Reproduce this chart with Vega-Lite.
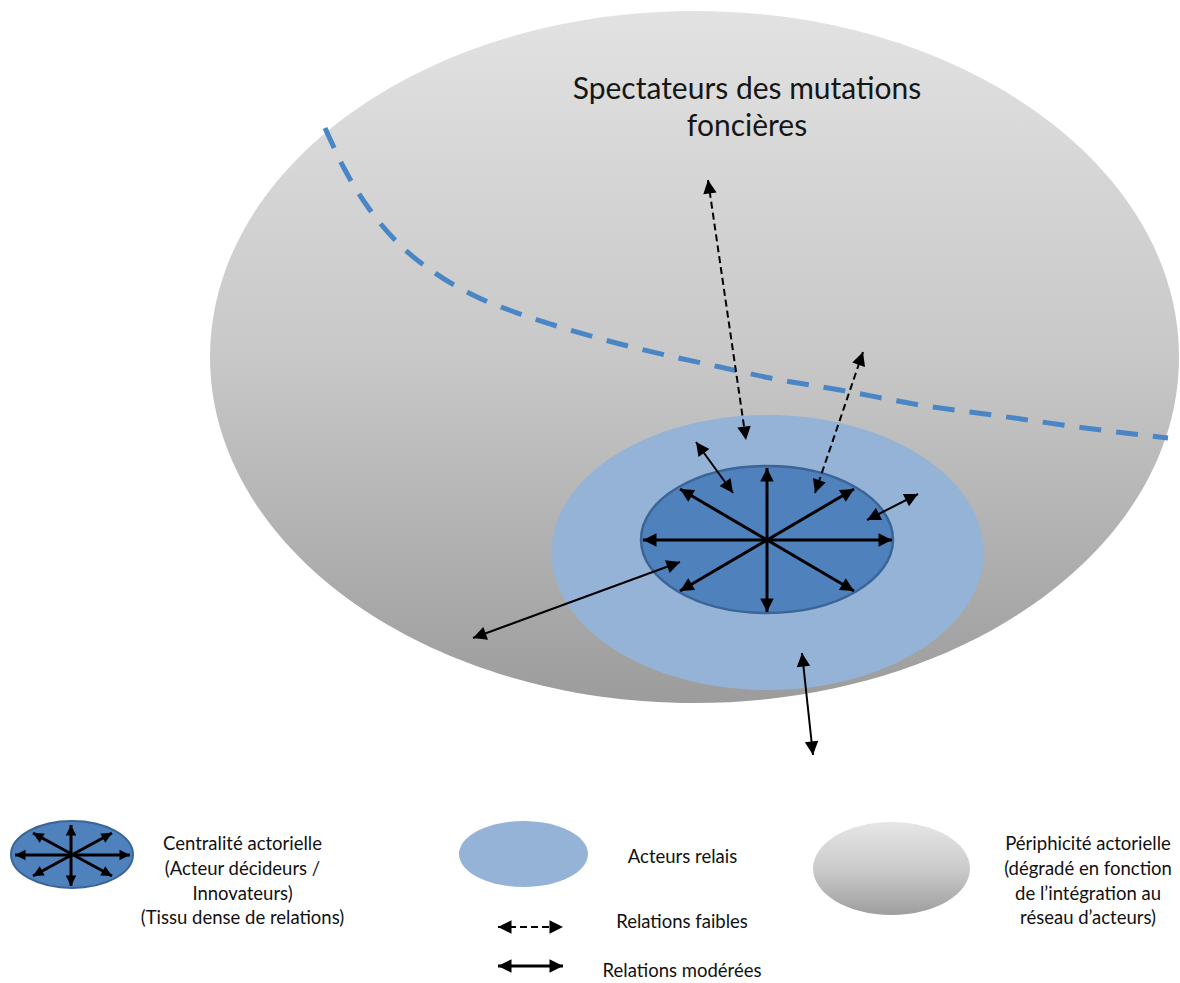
{
  "$schema": "https://vega.github.io/schema/vega-lite/v6.json",
  "width": 1180,
  "height": 983,
  "autosize": {"type": "fit", "contains": "padding"},
  "padding": 0,
  "background": "white",
  "config": {"view": {"stroke": null}},
  "datasets": {
    "shapes": [
      {"name": "peripherie", "x": 694.5, "y": 357},
      {"name": "relais", "x": 767.5, "y": 552.5},
      {"name": "centre", "x": 767, "y": 539.5},
      {"name": "leg_centre", "x": 72, "y": 854.5},
      {"name": "leg_relais", "x": 523.5, "y": 854},
      {"name": "leg_peripherie", "x": 891.5, "y": 868.5}
    ],
    "curve": [
      {"x": 325, "y": 128}, {"x": 345, "y": 170}, {"x": 370, "y": 210}, {"x": 400, "y": 245},
      {"x": 435, "y": 273}, {"x": 475, "y": 296}, {"x": 520, "y": 314}, {"x": 570, "y": 330},
      {"x": 620, "y": 344}, {"x": 670, "y": 356}, {"x": 720, "y": 367}, {"x": 770, "y": 378},
      {"x": 840, "y": 390}, {"x": 920, "y": 405}, {"x": 1000, "y": 416}, {"x": 1085, "y": 428},
      {"x": 1168, "y": 438}
    ],
    "arrows": [
      {"x": 643, "y": 540, "x2": 892, "y2": 540, "kind": "core"},
      {"x": 767, "y": 468, "x2": 767, "y2": 612, "kind": "core"},
      {"x": 680, "y": 489, "x2": 854, "y2": 591, "kind": "core"},
      {"x": 854, "y": 489, "x2": 680, "y2": 591, "kind": "core"},
      {"x": 696, "y": 442, "x2": 733, "y2": 493, "kind": "moderee"},
      {"x": 918, "y": 494, "x2": 867, "y2": 520, "kind": "moderee"},
      {"x": 473, "y": 638, "x2": 680, "y2": 562, "kind": "moderee"},
      {"x": 802, "y": 653, "x2": 813, "y2": 755, "kind": "moderee"},
      {"x": 708, "y": 180, "x2": 746, "y2": 440, "kind": "faible"},
      {"x": 863, "y": 352, "x2": 815, "y2": 493, "kind": "faible"},
      {"x": 15, "y": 855, "x2": 130, "y2": 855, "kind": "leg_core"},
      {"x": 71, "y": 825, "x2": 71, "y2": 886, "kind": "leg_core"},
      {"x": 33, "y": 833, "x2": 112, "y2": 876, "kind": "leg_core"},
      {"x": 112, "y": 833, "x2": 33, "y2": 876, "kind": "leg_core"},
      {"x": 498, "y": 927, "x2": 563, "y2": 927, "kind": "leg_faible"},
      {"x": 498, "y": 966, "x2": 563, "y2": 966, "kind": "leg_moderee"}
    ],
    "labels": [
      {"x": 747, "y": 99, "text": "Spectateurs des mutations", "grp": "title"},
      {"x": 747, "y": 136, "text": "foncières", "grp": "title"},
      {"x": 242.5, "y": 850, "text": "Centralité actorielle", "grp": "legend"},
      {"x": 242.5, "y": 875, "text": "(Acteur décideurs /", "grp": "legend"},
      {"x": 242.5, "y": 900, "text": "Innovateurs)", "grp": "legend"},
      {"x": 242.5, "y": 924, "text": "(Tissu dense de relations)", "grp": "legend"},
      {"x": 682.5, "y": 863, "text": "Acteurs relais", "grp": "legend"},
      {"x": 682, "y": 928, "text": "Relations faibles", "grp": "legend"},
      {"x": 682, "y": 977, "text": "Relations modérées", "grp": "legend"},
      {"x": 1088, "y": 850, "text": "Périphicité actorielle", "grp": "legend"},
      {"x": 1088, "y": 875, "text": "(dégradé en fonction", "grp": "legend"},
      {"x": 1088, "y": 900, "text": "de l’intégration au", "grp": "legend"},
      {"x": 1088, "y": 924, "text": "réseau d’acteurs)", "grp": "legend"}
    ]
  },
  "encoding": {
    "x": {"field": "x", "type": "quantitative", "scale": {"domain": [0, 1180], "nice": false, "zero": false}, "axis": null},
    "y": {"field": "y", "type": "quantitative", "scale": {"domain": [0, 983], "nice": false, "zero": false, "reverse": true}, "axis": null}
  },
  "layer": [
    {
      "data": {"name": "shapes"},
      "transform": [{"filter": "datum.name === 'peripherie'"}],
      "mark": {"type": "point", "shape": "M-1,0A1,0.7141 0 1,1 1,0A1,0.7141 0 1,1 -1,0Z", "size": 938961, "filled": true, "opacity": 1, "strokeWidth": 0,
        "fill": {"gradient": "linear", "x1": 0, "y1": 0, "x2": 0, "y2": 1, "stops": [{"offset": 0, "color": "#e2e2e2"}, {"offset": 0.5, "color": "#c8c8c8"}, {"offset": 1, "color": "#9c9c9c"}]}}
    },
    {
      "data": {"name": "curve"},
      "mark": {"type": "line", "interpolate": "monotone", "stroke": "#4a86c6", "strokeWidth": 5, "strokeDash": [22, 15], "strokeCap": "butt"}
    },
    {
      "data": {"name": "shapes"},
      "transform": [{"filter": "datum.name === 'relais'"}],
      "mark": {"type": "point", "shape": "M-1,0A1,0.6366 0 1,1 1,0A1,0.6366 0 1,1 -1,0Z", "size": 186624, "filled": true, "opacity": 1, "strokeWidth": 0, "fill": "#95b3d7"}
    },
    {
      "data": {"name": "shapes"},
      "transform": [{"filter": "datum.name === 'centre'"}],
      "mark": {"type": "point", "shape": "M-1,0A1,0.5833 0 1,1 1,0A1,0.5833 0 1,1 -1,0Z", "size": 63504, "filled": true, "opacity": 1, "fill": "#4f81bd", "stroke": "#3a6596", "strokeWidth": 2.5}
    },
    {
      "data": {"name": "shapes"},
      "transform": [{"filter": "datum.name === 'leg_centre'"}],
      "mark": {"type": "point", "shape": "M-1,0A1,0.549 0 1,1 1,0A1,0.549 0 1,1 -1,0Z", "size": 14884, "filled": true, "opacity": 1, "fill": "#4f81bd", "stroke": "#3a6596", "strokeWidth": 2}
    },
    {
      "data": {"name": "shapes"},
      "transform": [{"filter": "datum.name === 'leg_relais'"}],
      "mark": {"type": "point", "shape": "M-1,0A1,0.5116 0 1,1 1,0A1,0.5116 0 1,1 -1,0Z", "size": 16641, "filled": true, "opacity": 1, "strokeWidth": 0, "fill": "#95b3d7"}
    },
    {
      "data": {"name": "shapes"},
      "transform": [{"filter": "datum.name === 'leg_peripherie'"}],
      "mark": {"type": "point", "shape": "M-1,0A1,0.5924 0 1,1 1,0A1,0.5924 0 1,1 -1,0Z", "size": 24649, "filled": true, "opacity": 1, "strokeWidth": 0,
        "fill": {"gradient": "linear", "x1": 0, "y1": 0, "x2": 0, "y2": 1, "stops": [{"offset": 0, "color": "#e6e6e6"}, {"offset": 0.5, "color": "#cbcbcb"}, {"offset": 1, "color": "#9e9e9e"}]}}
    },
    {
      "data": {"name": "arrows"},
      "transform": [{"filter": "datum.kind === 'core' || datum.kind === 'leg_core' || datum.kind === 'leg_moderee'"}],
      "mark": {"type": "rule", "stroke": "black", "strokeWidth": 3},
      "encoding": {"x2": {"field": "x2"}, "y2": {"field": "y2"}}
    },
    {
      "data": {"name": "arrows"},
      "transform": [{"filter": "datum.kind === 'moderee'"}],
      "mark": {"type": "rule", "stroke": "black", "strokeWidth": 2},
      "encoding": {"x2": {"field": "x2"}, "y2": {"field": "y2"}}
    },
    {
      "data": {"name": "arrows"},
      "transform": [{"filter": "datum.kind === 'faible' || datum.kind === 'leg_faible'"}],
      "mark": {"type": "rule", "stroke": "black", "strokeWidth": 2, "strokeDash": [7, 4]},
      "encoding": {"x2": {"field": "x2"}, "y2": {"field": "y2"}}
    },
    {
      "data": {"name": "arrows"},
      "transform": [
        {"filter": "datum.kind !== 'leg_core'"},
        {"calculate": "atan2(datum.x2 - datum.x, -(datum.y2 - datum.y)) * 180 / PI", "as": "ang"}
      ],
      "mark": {"type": "point", "shape": "M0,0L0.5,1L-0.5,1Z", "size": 729, "filled": true, "opacity": 1, "fill": "black", "strokeWidth": 0},
      "encoding": {
        "x": {"field": "x2", "type": "quantitative"},
        "y": {"field": "y2", "type": "quantitative"},
        "angle": {"field": "ang", "type": "quantitative", "scale": null}
      }
    },
    {
      "data": {"name": "arrows"},
      "transform": [
        {"filter": "datum.kind !== 'leg_core'"},
        {"calculate": "atan2(datum.x - datum.x2, -(datum.y - datum.y2)) * 180 / PI", "as": "ang"}
      ],
      "mark": {"type": "point", "shape": "M0,0L0.5,1L-0.5,1Z", "size": 729, "filled": true, "opacity": 1, "fill": "black", "strokeWidth": 0},
      "encoding": {
        "angle": {"field": "ang", "type": "quantitative", "scale": null}
      }
    },
    {
      "data": {"name": "arrows"},
      "transform": [
        {"filter": "datum.kind === 'leg_core'"},
        {"calculate": "atan2(datum.x2 - datum.x, -(datum.y2 - datum.y)) * 180 / PI", "as": "ang"}
      ],
      "mark": {"type": "point", "shape": "M0,0L0.5,1L-0.5,1Z", "size": 441, "filled": true, "opacity": 1, "fill": "black", "strokeWidth": 0},
      "encoding": {
        "x": {"field": "x2", "type": "quantitative"},
        "y": {"field": "y2", "type": "quantitative"},
        "angle": {"field": "ang", "type": "quantitative", "scale": null}
      }
    },
    {
      "data": {"name": "arrows"},
      "transform": [
        {"filter": "datum.kind === 'leg_core'"},
        {"calculate": "atan2(datum.x - datum.x2, -(datum.y - datum.y2)) * 180 / PI", "as": "ang"}
      ],
      "mark": {"type": "point", "shape": "M0,0L0.5,1L-0.5,1Z", "size": 441, "filled": true, "opacity": 1, "fill": "black", "strokeWidth": 0},
      "encoding": {
        "angle": {"field": "ang", "type": "quantitative", "scale": null}
      }
    },
    {
      "data": {"name": "labels"},
      "transform": [{"filter": "datum.grp === 'title'"}],
      "mark": {"type": "text", "font": "Lato", "fontSize": 30, "fill": "#161616", "align": "center", "baseline": "alphabetic"},
      "encoding": {"text": {"field": "text"}}
    },
    {
      "data": {"name": "labels"},
      "transform": [{"filter": "datum.grp === 'legend'"}],
      "mark": {"type": "text", "font": "Lato", "fontSize": 18.5, "fill": "#111111", "align": "center", "baseline": "alphabetic"},
      "encoding": {"text": {"field": "text"}}
    }
  ]
}
